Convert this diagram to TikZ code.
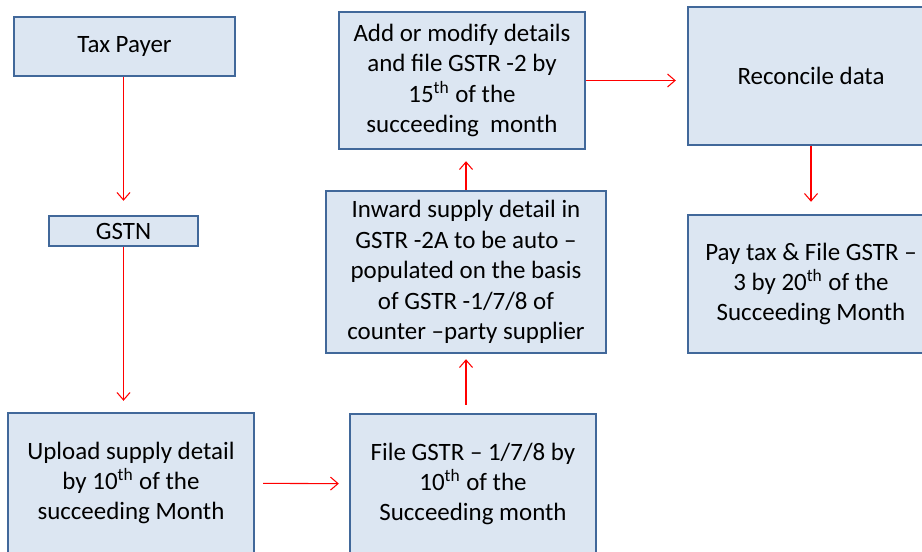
\documentclass[tikz,border=0pt]{standalone}
\usepackage{fontspec}
\setmainfont{Carlito}
\usepackage{tikz}
\usetikzlibrary{positioning, arrows.meta}

\definecolor{boxfill}{HTML}{DCE6F2}
\definecolor{boxline}{HTML}{41689A}

\begin{document}
\begin{tikzpicture}
    [
        x=0.02cm, y=-0.02cm,
        blue_box/.style={rectangle, draw=boxline, fill=boxfill, line width=1.4pt, align=center, inner sep=0pt, font=\fontsize{14.2}{17.3}\selectfont},
        red_arrow/.style={-{Straight Barb[length=1.5mm, width=2.6mm]}, line width=0.6pt, color=red},
    ]
        \clip (0,0) rectangle (922,551) ;
        \node[blue_box, minimum width=4.42cm, minimum height=1.18cm] (tax) at (124.5,46.5) {Tax Payer} ;
        \node[blue_box, minimum width=2.98cm, minimum height=0.6cm] (gstn) at (123.5,231) {GSTN} ;
        \node[blue_box, minimum width=4.92cm, minimum height=2.8cm] (upload) at (131,483) {Upload supply detail\\by 10\textsuperscript{th} of the\\succeeding Month} ;
        \node[blue_box, minimum width=4.92cm, minimum height=2.8cm] (file) at (473,484) {File GSTR -- 1/7/8 by\\10\textsuperscript{th} of the\\Succeeding month} ;
        \node[blue_box, minimum width=5.6cm, minimum height=3.24cm] (inward) at (466,272) {Inward supply detail in\\GSTR -2A to be auto --\\populated on the basis\\of GSTR -1/7/8 of\\counter --party supplier} ;
        \node[blue_box, minimum width=4.92cm, minimum height=2.74cm] (add) at (462,80.5) {Add or modify details\\and file GSTR -2 by\\15\textsuperscript{th} of the\\succeeding~ month} ;
        \node[blue_box, minimum width=4.92cm, minimum height=2.76cm] (reconcile) at (811,76) {Reconcile data} ;
        \node[blue_box, minimum width=4.92cm, minimum height=2.76cm] (pay) at (811,284) {Pay tax \& File GSTR --\\3 by 20\textsuperscript{th} of the\\Succeeding Month} ;
        \draw[red_arrow, shorten >=0.28cm] (gstn |- tax.south) -- (gstn.north) ;
        \draw[red_arrow, shorten >=0.22cm] (gstn.south) -- (gstn.south |- upload.north) ;
        \draw[red_arrow, shorten <=0.16cm, shorten >=0.2cm] (upload) -- (file) ;
        \draw[red_arrow, shorten <=0.16cm, shorten >=0.1cm] (file.north -| inward.south) -- (inward.south) ;
        \draw[red_arrow, shorten >=0.22cm] (inward) -- (inward |- add.south) ;
        \draw[red_arrow, shorten >=0.22cm] (add.east) -- (add.east -| reconcile.west) ;
        \draw[red_arrow, shorten >=0.24cm] (reconcile) -- (pay) ;
    \end{tikzpicture}
\end{document}
